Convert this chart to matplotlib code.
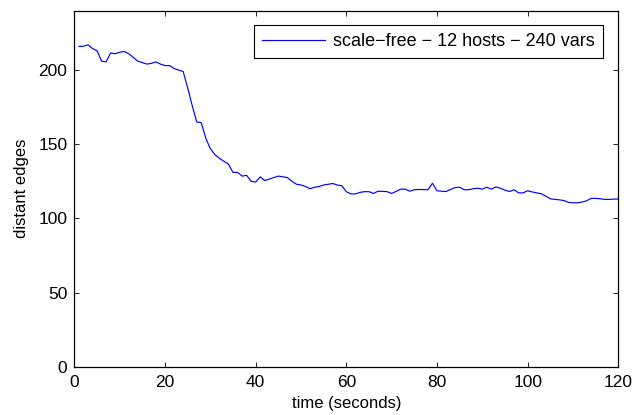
import numpy as np
import matplotlib
matplotlib.use("Agg")
from matplotlib import pyplot as plt

# distant edges sampled once per second
time_s = list(range(1, 121))
distant_edges = [
    216, 216, 217, 214.5, 213, 206, 205.5, 211.5, 211, 212,
    212.5, 211, 208.5, 206, 205, 204, 204.5, 205.5, 204, 203,
    203, 201, 200, 199, 188, 176, 165, 164.5, 154, 147,
    143, 140.5, 138.5, 136.5, 131, 131, 128.5, 129, 125, 124.5,
    128, 125.5, 126.5, 127.5, 128.5, 128, 127.5, 125, 123, 122.5,
    121.5, 120, 121, 121.5, 122.5, 123, 123.5, 122.5, 122, 118,
    116.5, 116.5, 117.5, 118, 118, 116.8, 118.3, 118.2, 118, 116.8,
    118.2, 119.7, 119.7, 118.3, 119.3, 119.5, 119.4, 119.3, 123.7, 118.6,
    118.3, 118.1, 119.5, 120.8, 121, 119.3, 119.3, 120, 120.3, 119.7,
    121, 119.7, 121.2, 120.3, 119, 118.1, 119.3, 117.2, 117.2, 118.6,
    117.8, 117.2, 116.6, 115, 113.2, 112.8, 112.5, 112, 110.8, 110.5,
    110.5, 111, 111.8, 113.5, 113.5, 113.2, 112.8, 112.8, 113, 113,
]
series_label = "scale\u2212free \u2212 12 hosts \u2212 240 vars"
x_ticks = [0, 20, 40, 60, 80, 100, 120]
y_ticks = [0, 50, 100, 150, 200]

plt.rcParams['font.family'] = ['Liberation Sans', 'DejaVu Sans']
plt.rcParams['font.size'] = 12.5

fig = plt.figure(figsize=(6.41, 4.15), dpi=100)
ax = fig.add_axes([0.116, 0.1164, 0.8486, 0.8578])

ax.plot(time_s, distant_edges, color=(0, 0, 1), linewidth=0.85, label=series_label)

ax.set_xlim(0, 120)
ax.set_ylim(0, 240)
ax.set_xticks(x_ticks)
ax.set_yticks(y_ticks)
ax.tick_params(direction='in', length=3.6, width=0.6, top=True, right=True,
               labelsize=12.5)
ax.tick_params(axis='x', pad=6)
ax.tick_params(axis='y', pad=5)
for sp in ax.spines.values():
    sp.set_linewidth(0.9)

ax.set_xlabel("time (seconds)", fontsize=12, labelpad=4)
ax.set_ylabel("distant edges", fontsize=12, labelpad=7)

leg = ax.legend(loc='upper right', bbox_to_anchor=(0.9724, 0.96), borderaxespad=0,
                fancybox=False, framealpha=1, edgecolor='black', fontsize=13,
                handlelength=3.5, handletextpad=0.45, borderpad=0.45)
leg.get_frame().set_linewidth(0.8)

plt.savefig("out.png", dpi=100)
